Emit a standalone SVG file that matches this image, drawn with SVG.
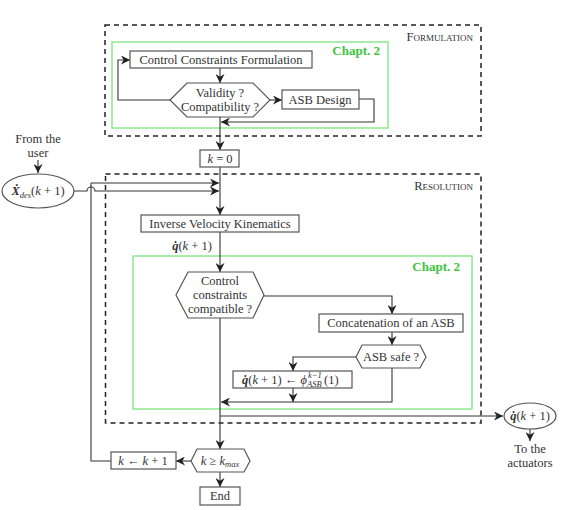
<svg xmlns="http://www.w3.org/2000/svg" width="574" height="510" viewBox="0 0 574 510" font-family="'Liberation Serif', 'DejaVu Serif', 'Times New Roman', serif">
<style>
text{font-family:'Liberation Serif','DejaVu Serif','Times New Roman',serif;font-size:12.5px;fill:#333;text-anchor:middle}
.box{fill:#fff;stroke:#555;stroke-width:1.2}
.ln{fill:none;stroke:#333;stroke-width:1.1}
.dash{fill:none;stroke:#222;stroke-width:1.5;stroke-dasharray:5 4}
.grn{fill:none;stroke:#8ee88e;stroke-width:1.5}
.ch{fill:#3ec43e;font-weight:bold;text-anchor:end;font-size:13px}
.sc{font-variant:small-caps;text-anchor:end;font-size:12.5px}
.m{font-style:italic}
.b{font-style:italic;font-weight:bold}
.s{font-size:8.5px;font-style:italic}
.st{text-anchor:start}
</style>
<defs>
<marker id="a" viewBox="0 0 10 10" refX="10" refY="5" markerWidth="9" markerHeight="9" markerUnits="userSpaceOnUse" orient="auto">
<path d="M0,0 L10,5 L0,10 L3,5 z" fill="#222"/>
</marker>
</defs>

<g id="frames">
<rect class="dash" x="105" y="25" width="376" height="111"/>
<text class="sc" x="473" y="41">Formulation</text>
<rect class="grn" x="112" y="42" width="276" height="86"/>
<text class="ch" x="380" y="55">Chapt. 2</text>
<rect class="dash" x="105.5" y="174" width="375.5" height="249"/>
<text class="sc" x="473" y="190">Resolution</text>
<rect class="grn" x="133" y="256" width="339" height="153"/>
<text class="ch" x="460" y="271">Chapt. 2</text>
</g>

<g id="connectors">
<path class="ln" marker-end="url(#a)" d="M220,68 V83"/>
<path class="ln" marker-end="url(#a)" d="M170,100 H118 V60 H130"/>
<path class="ln" marker-end="url(#a)" d="M270,100 H282"/>
<path class="ln" marker-end="url(#a)" d="M359,99 H374 V122 H221"/>
<path class="ln" marker-end="url(#a)" d="M220,117 V150"/>
<path class="ln" d="M220,167 V190"/>
<path class="ln" marker-end="url(#a)" d="M38,160 V173"/>
<path class="ln" marker-end="url(#a)" d="M91,183 H219"/>
<path class="ln" marker-end="url(#a)" d="M74,191 H87 A4,4 0 0 1 95,191 H219"/>
<path class="ln" marker-end="url(#a)" d="M220,190 V215"/>
<path class="ln" marker-end="url(#a)" d="M220,232 V272"/>
<path class="ln" marker-end="url(#a)" d="M264,296 H392 V314"/>
<path class="ln" marker-end="url(#a)" d="M392,332 V345"/>
<path class="ln" marker-end="url(#a)" d="M356,357 H293 V371"/>
<path class="ln" marker-end="url(#a)" d="M293,388 V402"/>
<path class="ln" marker-end="url(#a)" d="M392,368 V402 H221"/>
<path class="ln" marker-end="url(#a)" d="M220,318 V449"/>
<path class="ln" marker-end="url(#a)" d="M220,416 H503"/>
<path class="ln" marker-end="url(#a)" d="M530,429 V441"/>
<path class="ln" marker-end="url(#a)" d="M191,461 H176"/>
<path class="ln" d="M111,461 H91 V183"/>
<path class="ln" marker-end="url(#a)" d="M220,472 V487"/>
</g>

<g id="ccf"><rect class="box" x="130" y="51" width="182" height="17"/><text x="221" y="64">Control Constraints Formulation</text></g>
<g id="validity"><polygon class="box" points="170,100 187,83 253,83 270,100 253,117 187,117"/><text x="220" y="97">Validity ?</text><text x="220" y="111">Compatibility ?</text></g>
<g id="asbdesign"><rect class="box" x="282" y="90" width="77" height="19"/><text x="320" y="104">ASB Design</text></g>
<g id="k0"><rect class="box" x="200" y="150" width="39" height="17"/><text x="220" y="163"><tspan class="m">k</tspan> = 0</text></g>
<g id="user"><text x="38" y="143">From the</text><text x="38" y="157">user</text></g>
<g id="xdes"><ellipse class="box" cx="38" cy="191" rx="36" ry="17"/><text x="38" y="195"><tspan class="b">Ẋ</tspan><tspan class="s" dy="3">des</tspan><tspan dy="-3">(</tspan><tspan class="m">k</tspan> + 1)</text></g>
<g id="ivk"><rect class="box" x="141" y="215" width="158" height="17"/><text x="220" y="228">Inverse Velocity Kinematics</text></g>
<g id="qlabel"><text x="192" y="250"><tspan class="b">q̇</tspan>(<tspan class="m">k</tspan> + 1)</text></g>
<g id="ccc"><polygon class="box" points="176,295 188,272 253,272 264,295 253,318 188,318"/><text x="220" y="285">Control</text><text x="220" y="299">constraints</text><text x="220" y="313">compatible ?</text></g>
<g id="concat"><rect class="box" x="319" y="314" width="144" height="18"/><text x="391" y="327">Concatenation of an ASB</text></g>
<g id="asbsafe"><polygon class="box" points="356,357 362,345 420,345 426,357 420,368 362,368"/><text x="391" y="361">ASB safe ?</text></g>
<g id="phi"><rect class="box" x="233" y="371" width="119" height="17"/>
<text class="st" x="242" y="384"><tspan class="b">q̇</tspan>(<tspan class="m">k</tspan> + 1) ← <tspan class="m">ϕ</tspan></text>
<text class="s st" x="307" y="387">ASB</text>
<text class="s st" x="308" y="378">k−1</text>
<text class="st" x="324" y="384">(1)</text></g>
<g id="qout"><ellipse class="box" cx="530" cy="416" rx="26" ry="13"/><text x="530" y="420"><tspan class="b">q̇</tspan>(<tspan class="m">k</tspan> + 1)</text></g>
<g id="act"><text x="530" y="453">To the</text><text x="530" y="467">actuators</text></g>
<g id="kmax"><polygon class="box" points="191,461 197,449 244,449 250,461 244,472 197,472"/><text x="220" y="465"><tspan class="m">k</tspan> ≥ <tspan class="m">k</tspan><tspan class="s" dy="2">max</tspan></text></g>
<g id="kinc"><rect class="box" x="111" y="452" width="65" height="17"/><text x="143" y="465"><tspan class="m">k</tspan> ← <tspan class="m">k</tspan> + 1</text></g>
<g id="end"><rect class="box" x="200" y="487" width="40" height="18"/><text x="220" y="500">End</text></g>
</svg>
